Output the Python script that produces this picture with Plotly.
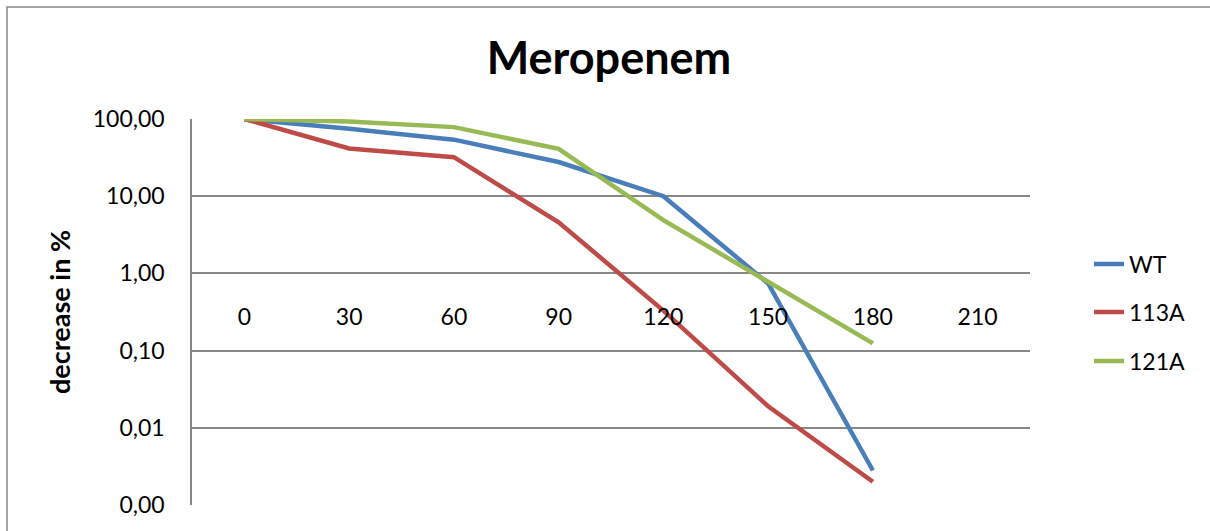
import plotly.graph_objects as go

# Time points (minutes) and survival values (percent)
time_points = [0, 30, 60, 90, 120, 150, 180, 210]
wt_values = [100, 75, 54, 27.7, 10, 0.74, 0.0028]
a113_values = [100, 41.6, 32, 4.6, 0.33, 0.019, 0.002]
a121_values = [100, 93, 78.5, 41, 4.9, 0.79, 0.124]

series_names = ["WT", "113A", "121A"]
series_colors = ["#4A7EBB", "#BE4B48", "#98B954"]
y_tick_values = [0.001, 0.01, 0.1, 1, 10, 100]
y_tick_labels = ["0,00", "0,01", "0,10", "1,00", "10,00", "100,00"]

FONT = "Lato"
W, H = 1210, 531
L, R, T, B = 192, 180, 119, 26
PW, PH = W - L - R, H - T - B

fig = go.Figure()
legend_ids = ["legend", "legend2", "legend3"]
legend_rows = [264, 312, 361]
for name, vals, col, lg in zip(series_names, [wt_values, a113_values, a121_values],
                               series_colors, legend_ids):
    fig.add_trace(go.Scatter(
        x=time_points[:len(vals)], y=vals, name=name, mode="lines",
        line=dict(color=col, width=4.5), legend=lg,
    ))

# each series gets its own legend box so the rows can be spaced freely
for lg, row in zip(legend_ids, legend_rows):
    fig.update_layout({lg: dict(
        x=(1089 - L) / PW, xanchor="left",
        y=1 - (row - T) / PH, yanchor="middle",
        font=dict(size=23, family=FONT), bgcolor="rgba(0,0,0,0)",
    )})

# the category axis crosses the value axis at 1,00 (log 0 within -3..2)
cross_frac = (0 - (-3)) / (2 - (-3))

fig.update_layout(
    width=W, height=H,
    margin=dict(l=L, r=R, t=T, b=B),
    paper_bgcolor="white", plot_bgcolor="white",
    font=dict(family=FONT, color="black"),
    title=dict(text="<b>Meropenem</b>", x=609 / W, xanchor="center",
               y=1 - 58 / H, yanchor="middle", font=dict(size=45, family=FONT)),
    showlegend=True,
    xaxis=dict(
        range=[-15, 225], tickmode="array", tickvals=time_points,
        ticktext=[str(t) for t in time_points],
        showgrid=False, zeroline=False, showline=False, ticks="",
        anchor="free", position=cross_frac, side="bottom",
        tickfont=dict(size=23, family=FONT), ticklabelstandoff=28,
    ),
    yaxis=dict(
        type="log", range=[-3, 2], tickmode="array",
        tickvals=y_tick_values, ticktext=y_tick_labels,
        showgrid=True, gridcolor="#878787", gridwidth=1.5,
        showline=True, linecolor="#878787", linewidth=1.5,
        ticks="", zeroline=False,
        tickfont=dict(size=23, family=FONT), ticklabelstandoff=21,
        title=dict(text="<b>decrease in %</b>", font=dict(size=27, family=FONT), standoff=14),
    ),
)

# outer chart border
fig.add_shape(type="rect", xref="paper", yref="paper",
              x0=(7 - L) / PW, x1=(W + 10 - L) / PW,
              y0=-(B + 10) / PH, y1=1 + (T - 7) / PH,
              line=dict(color="#878787", width=1.5), fillcolor="rgba(0,0,0,0)", layer="below")

fig.write_html("out.html")
